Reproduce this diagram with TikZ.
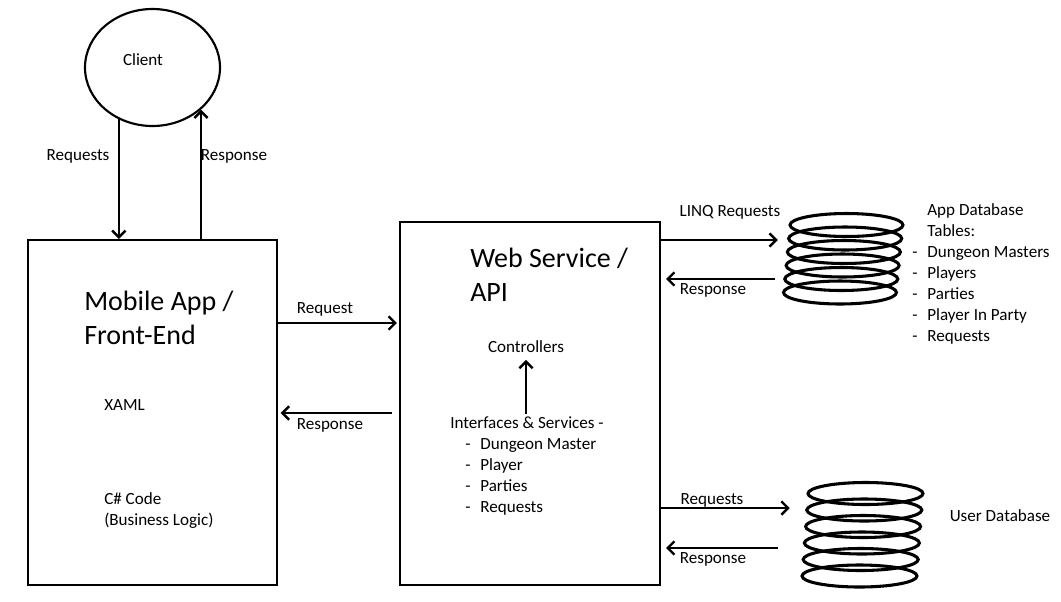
\documentclass[tikz,border=0pt]{standalone}
\usepackage{fontspec}
\setmainfont{Carlito}
\usetikzlibrary{shapes.geometric,arrows.meta}

\begin{document}
\begin{tikzpicture}[x=0.75pt, y=-0.75pt,
  blk/.style={draw, line width=1.6pt, inner sep=0pt},
  arr/.style={-{Straight Barb[length=5pt,width=10pt]}, line width=1.8pt},
  lbl/.style={font=\fontsize{12.8}{15.75}\selectfont, inner sep=0pt},
  big/.style={font=\fontsize{21}{25.5}\selectfont, inner sep=0pt, align=left},
  disk/.style={line width=2.3pt}]

\useasboundingbox (0,0) rectangle (1061,601);

% client and the two boxes
\node (client) [blk, ellipse, minimum width=101.25pt, minimum height=87.75pt] at (152.5,67.5) {};
\node (clientlbl) [lbl] at (143,60) {Client};
\node (mobile) [blk, minimum width=186.75pt, minimum height=258.75pt] at (152.5,412.5) {};
\node (web) [blk, minimum width=195pt, minimum height=272.25pt] at (530,403.5) {};

% inside the mobile app
\node (mobiletitle) [big, anchor=west] at (84,317.5) {Mobile App /\\Front-End};
\node (xaml) [lbl, anchor=west] at (104,405) {XAML};
\node (code) [lbl, anchor=west, align=left] at (104,510.5) {C\# Code\\(Business Logic)};

% inside the web service
\node (webtitle) [big, anchor=west] at (470,275) {Web Service /\\API};
\node (ctrl) [lbl] at (526,347) {Controllers};
\node (ifaces) [lbl, anchor=north west] at (450,414) {\begin{tabular}{@{}l@{\hspace{7.4pt}}l@{}}
\multicolumn{2}{@{}l@{}}{Interfaces \& Services -}\\
\hspace{11.25pt}- & Dungeon Master\\
\hspace{11.25pt}- & Player\\
\hspace{11.25pt}- & Parties\\
\hspace{11.25pt}- & Requests
\end{tabular}};
\draw[arr, shorten >=5pt] (ctrl.south |- ifaces.north) -- (ctrl.south);

% databases
\foreach \i in {0,...,5}
  \draw[disk] (846.5-1.3*\i, 225+13.5*\i) ellipse [x radius=56.5, y radius=11.5];
\node (appdb) [inner sep=0pt, minimum width=85pt, minimum height=68pt] at (843,258.5) {};
\foreach \i in {0,...,5}
  \draw[disk] (865.5-1.2*\i, 493.5+16.5*\i) ellipse [x radius=57.5, y radius=11];
\node (userdb) [inner sep=0pt, minimum width=90.75pt, minimum height=78pt] at (862.5,535) {};

\node (tables) [lbl, anchor=north west] at (912,201) {\begin{tabular}{@{}l@{\hspace{7.4pt}}l@{}}
 & App Database\\
 & Tables:\\
- & Dungeon Masters\\
- & Players\\
- & Parties\\
- & Player In Party\\
- & Requests
\end{tabular}};
\node (userlbl) [lbl] at (1000,516) {User Database};

% client <-> mobile app
\draw[arr] (client.237) -- (client.237 |- mobile.north);
\draw[arr] (client.319 |- mobile.north) -- (client.319);
\node (clreq) [lbl] at (78,156) {Requests};
\node (clres) [lbl] at (234,156) {Response};

% mobile app <-> web service
\coordinate (reqy) at (0,323);
\coordinate (resy) at (0,413);
\draw[arr, shorten >=1.5pt] (mobile.east |- reqy) -- (web.west |- reqy);
\draw[arr, shorten <=5pt, shorten >=2pt] (web.west |- resy) -- (mobile.east |- resy);
\node (mreq) [lbl] at (325,309) {Request};
\node (mres) [lbl] at (330,425) {Response};

% web service <-> app database
\coordinate (linqy) at (0,240);
\coordinate (aresy) at (0,279);
\draw[arr, shorten >=6.2pt] (web.east |- linqy) -- (appdb.west |- linqy);
\draw[arr, shorten <=8pt, shorten >=3.75pt] (appdb.west |- aresy) -- (web.east |- aresy);
\node (linq) [lbl] at (730,212) {LINQ Requests};
\node (ares) [lbl] at (713,290) {Response};

% web service <-> user database
\coordinate (ureqy) at (0,508);
\coordinate (uresy) at (0,548);
\draw[arr, shorten >=9pt] (web.east |- ureqy) -- (userdb.west |- ureqy);
\draw[arr, shorten <=18pt, shorten >=3.75pt] (userdb.west |- uresy) -- (web.east |- uresy);
\node (ureq) [lbl] at (712,500) {Requests};
\node (ures) [lbl] at (713,559) {Response};

\end{tikzpicture}
\end{document}
